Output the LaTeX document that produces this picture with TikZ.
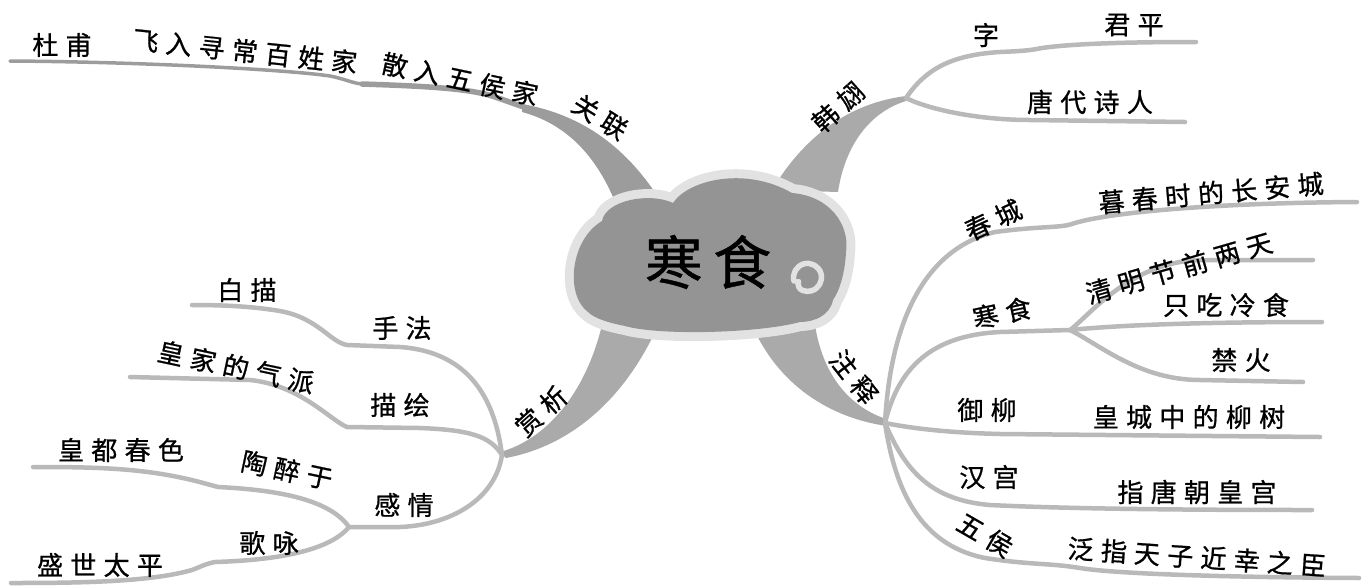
\documentclass[tikz,border=0pt]{standalone}
\usepackage{fontspec}
\newfontfamily\cjk[LetterSpace=28,FakeBold=0.8]{Noto Sans CJK SC}
\newfontfamily\cjkbig[LetterSpace=18,FakeBold=0.8]{Noto Sans CJK SC}
\definecolor{brA}{HTML}{9C9C9C}
\definecolor{brM}{HTML}{AAAAAA}
\definecolor{brS}{HTML}{B9B9B9}
\definecolor{cloudB}{HTML}{949494}
\definecolor{cloudH}{HTML}{E2E2E2}
\begin{document}
\begin{tikzpicture}[x=1pt,y=-1pt,
  lbl/.style={font=\cjk\fontsize{26}{26}\selectfont, inner sep=0pt, text=black},
  subl/.style={draw=brS, line width=4.5pt, line cap=round},
]
\useasboundingbox (0,0) rectangle (1362,587);

% junctions and ends
\coordinate (gL) at (10,61);
\coordinate (gE) at (530,109);
\coordinate (H) at (906,98);
\coordinate (hA) at (1196,42);
\coordinate (hB) at (1185,122);
\coordinate (J) at (885,423);
\coordinate (K) at (1070,330);
\coordinate (jA) at (1357,202);
\coordinate (kA) at (1313,260);
\coordinate (kB) at (1322,322);
\coordinate (kC) at (1303,382);
\coordinate (jB) at (1320,437);
\coordinate (jC) at (1312,510);
\coordinate (jD) at (1359,578);
\coordinate (S) at (502,455);
\coordinate (G) at (349,527);
\coordinate (sA) at (192,305);
\coordinate (sB) at (130,377);
\coordinate (gA) at (33,467);
\coordinate (gB) at (11,583);

% ---- 关联 branch
\draw[brA, line width=3.5pt, line cap=round] (gL) .. controls (150,62) and (290,70) .. (330,76) .. controls (345,79) and (352,83) .. (362,84);
\draw[brA, line width=5.5pt, line cap=round] (362,84) .. controls (420,86) and (470,88) .. (495,97) .. controls (510,102) and (520,106) .. (gE);
\fill[brA] (522,104) .. controls (585,115) and (628,150) .. (660,200) -- (616,204) .. controls (598,160) and (570,125) .. (522,112) -- cycle;

% ---- 韩翃 branch
\fill[brM] (772,190) .. controls (805,135) and (850,103) .. (906,96) -- (906,101) .. controls (870,112) and (845,145) .. (838,192) -- cycle;
\draw[subl] (H) .. controls (925,70) and (950,55) .. (1000,52) .. controls (1025,51) and (1032,50) .. (1042,48) .. controls (1070,44) and (1120,42) .. (hA);
\draw[subl] (H) .. controls (930,110) and (980,120) .. (1030,120) -- (hB);

% ---- 赏析 branch
\fill[brM] (500,452) .. controls (545,440) and (585,395) .. (602,325) -- (655,332) .. controls (625,395) and (575,445) .. (506,458) -- cycle;
\draw[subl] (S) .. controls (495,400) and (470,352) .. (400,347) -- (347,345) .. controls (330,342) and (318,318) .. (280,311) .. controls (250,306) and (220,305) .. (sA);
\draw[subl] (S) .. controls (490,436) and (470,430) .. (420,428) -- (347,427) .. controls (330,420) and (300,385) .. (250,380) -- (sB);
\draw[subl] (S) .. controls (495,500) and (450,525) .. (400,527) -- (G);
\draw[subl] (G) .. controls (330,500) and (280,490) .. (218,487) .. controls (212,486) .. (207,484) .. controls (150,468) and (100,467) .. (gA);
\draw[subl] (G) .. controls (330,550) and (280,560) .. (215,562) .. controls (205,564) and (200,567) .. (192,570) .. controls (150,582) and (80,583) .. (gB);

% ---- 注释 branch
\fill[brM] (752,325) .. controls (778,385) and (830,418) .. (887,426) -- (886,419) .. controls (845,405) and (822,370) .. (815,325) -- cycle;
\draw[subl] (J) .. controls (890,330) and (920,250) .. (995,232) .. controls (1040,226) and (1060,228) .. (1072,224) .. controls (1100,214) and (1200,203) .. (jA);
\draw[subl] (J) .. controls (900,360) and (940,335) .. (1000,332) -- (K);
\draw[subl] (K) .. controls (1090,315) and (1130,262) .. (1200,260) -- (kA);
\draw[subl] (K) .. controls (1120,325) and (1200,322) .. (kB);
\draw[subl] (K) .. controls (1100,345) and (1140,380) .. (1200,380) -- (kC);
\draw[subl] (J) .. controls (920,430) and (960,433) .. (1000,434) -- (jB);
\draw[subl] (J) .. controls (905,470) and (930,500) .. (990,505) .. controls (1050,508) and (1150,510) .. (jC);
\draw[subl] (J) .. controls (895,490) and (920,545) .. (985,558) .. controls (1030,565) and (1050,563) .. (1080,568) .. controls (1110,573) and (1200,577) .. (jD);

% ---- cloud
\def\cloudpath{(588,312) .. controls (565,295) and (570,240) .. (602,221)
  .. controls (606,200) and (650,192) .. (673,203)
  .. controls (688,180) and (745,166) .. (792,193)
  .. controls (830,196) and (850,225) .. (846,252)
  .. controls (845,272) and (840,290) .. (833,300)
  .. controls (830,315) and (815,322) .. (800,322)
  .. controls (760,333) and (660,336) .. (625,326)
  .. controls (610,323) and (595,319) .. (588,312) -- cycle}
\draw[cloudH, line width=18pt, line join=round] \cloudpath;
\fill[cloudB] \cloudpath;
\draw[cloudH, line width=5.5pt, line cap=round] (794,281) arc[start angle=165, end angle=470, radius=14] arc[start angle=110, end angle=200, radius=7];
\node[font=\cjkbig\fontsize{58}{58}\selectfont, inner sep=0pt] (root) at (708,262) {寒食};

% ---- labels
\node[lbl] (duf) at (62,45) {杜甫};
\node[lbl, rotate=-6] (fei) at (245,51) {飞入寻常百姓家};
\node[lbl, rotate=-12] (san) at (460,79) {散入五侯家};
\node[lbl, rotate=-32] (gl) at (600,117) {关联};

\node[lbl, rotate=42] (han) at (838,107) {韩翃};
\node[lbl] (zi) at (986,35) {字};
\node[lbl] (jp) at (1134,25) {君平};
\node[lbl] (tang) at (1090,102) {唐代诗人};

\node[lbl, rotate=-52] (zs) at (854,377) {注释};
\node[lbl, rotate=25] (cc) at (993,220) {春城};
\node[lbl, rotate=5] (mc) at (1211,193) {暮春时的长安城};
\node[lbl, rotate=12] (hs) at (1002,313) {寒食};
\node[lbl, rotate=16] (qm) at (1179,268) {清明节前两天};
\node[lbl] (zc) at (1226,305) {只吃冷食};
\node[lbl] (jh) at (1241,360) {禁火};
\node[lbl] (yl) at (987,410) {御柳};
\node[lbl] (hc) at (1189,417) {皇城中的柳树};
\node[lbl] (hg) at (989,477) {汉宫};
\node[lbl] (zt) at (1197,492) {指唐朝皇宫};
\node[lbl, rotate=-30] (wh) at (985,535) {五侯};
\node[lbl, rotate=-4] (fz) at (1197,557) {泛指天子近幸之臣};

\node[lbl, rotate=42] (sx) at (541,411) {赏析};
\node[lbl] (bm) at (247,290) {白描};
\node[lbl] (sf) at (402,328) {手法};
\node[lbl, rotate=-12] (hj) at (236,367) {皇家的气派};
\node[lbl] (mh) at (400,405) {描绘};
\node[lbl] (hd) at (121,450) {皇都春色};
\node[lbl, rotate=-12] (tz) at (287,470) {陶醉于};
\node[lbl] (gq) at (404,505) {感情};
\node[lbl] (gy) at (269,543) {歌咏};
\node[lbl] (ss) at (100,565) {盛世太平};
\end{tikzpicture}
\end{document}
